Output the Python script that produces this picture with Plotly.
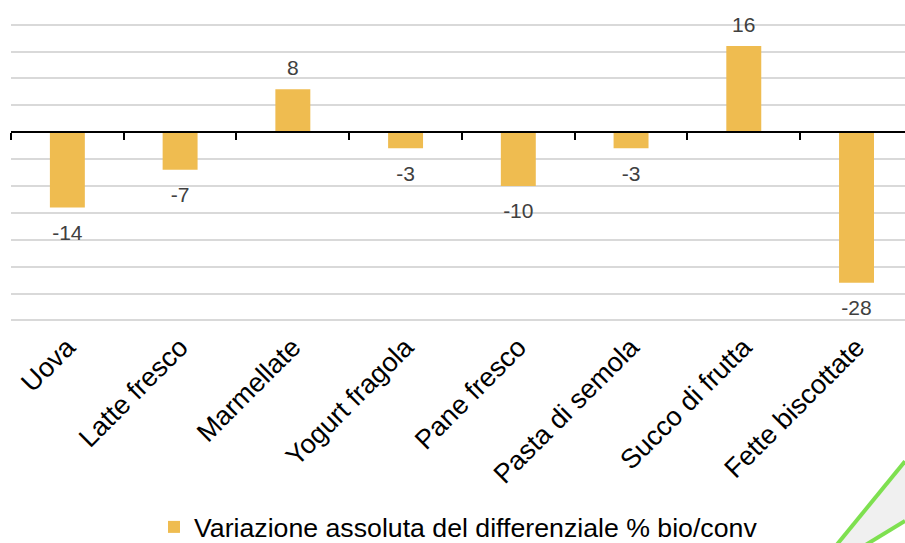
import plotly.graph_objects as go

categories = ["Uova", "Latte fresco", "Marmellate", "Yogurt fragola", "Pane fresco",
              "Pasta di semola", "Succo di frutta", "Fette biscottate"]
values = [-14, -7, 8, -3, -10, -3, 16, -28]
series_name = "Variazione assoluta del differenziale % bio/conv"

BAR = "#EFBC50"
FONT = "Liberation Sans, Arial, sans-serif"
W, H = 905, 543
top, bottom_px, left = 23, 322, 11
y_min, y_max = -35.3, 20.3

fig = go.Figure()
fig.add_bar(x=categories, y=values, width=0.31, marker=dict(color=BAR, line=dict(width=0)),
            name=series_name, showlegend=True, hoverinfo="skip")
fig.add_scatter(x=categories, y=values, mode="markers+text",
                text=[str(v) for v in values],
                textposition=["top center" if v >= 0 else "bottom center" for v in values],
                textfont=dict(family=FONT, size=21, color="#404040"),
                marker=dict(size=[13 if v >= 0 else 25 for v in values], opacity=0),
                showlegend=False, hoverinfo="skip", cliponaxis=False)
# helper trace for the zero axis with boundary ticks
fig.add_scatter(x=categories, y=values, xaxis="x2", mode="markers",
                marker=dict(opacity=0), showlegend=False, hoverinfo="skip")

xr = [-0.5, 7.43]
fig.update_layout(
    width=W, height=H,
    margin=dict(l=left, r=0, t=top, b=H - bottom_px, autoexpand=False),
    paper_bgcolor="white", plot_bgcolor="white",
    showlegend=True,
    xaxis=dict(type="category", range=xr, showgrid=False, showline=False, ticks="",
               tickangle=-45, tickfont=dict(family=FONT, size=27, color="black"),
               ticklabelstandoff=3, automargin=False),
    xaxis2=dict(type="category", range=xr, overlaying="x", anchor="free",
                position=(0 - y_min) / (y_max - y_min), side="bottom",
                showline=True, linecolor="black", linewidth=2,
                ticks="outside", tickson="boundaries", ticklen=7, tickwidth=2, tickcolor="black",
                showticklabels=False, showgrid=False, automargin=False),
    yaxis=dict(range=[y_min, y_max], dtick=5, tick0=0, showgrid=True, gridcolor="#d9d9d9",
               gridwidth=2, zeroline=False, showticklabels=False, ticks="", showline=False),
    legend=dict(orientation="h", xref="container", yref="paper", x=0.5066, xanchor="center",
                y=-0.766, yanchor="bottom", font=dict(family=FONT, size=26.7, color="black"),
                itemwidth=30, bgcolor="rgba(0,0,0,0)"),
    shapes=[
        dict(type="path", xref="paper", yref="paper",
             path="M 0.9160 -0.773 L 1.0 -0.466 L 1.0 -0.665 L 0.9410 -0.773 Z",
             fillcolor="#f0f0f0", line=dict(width=0), layer="below"),
        dict(type="line", xref="paper", yref="paper", x0=0.9160, y0=-0.773, x1=1.0, y1=-0.466,
             line=dict(color="#7EE050", width=4)),
        dict(type="line", xref="paper", yref="paper", x0=0.9410, y0=-0.773, x1=1.0, y1=-0.665,
             line=dict(color="#7EE050", width=4)),
    ],
)
fig.write_html("out.html", config={"displayModeBar": False},
               post_script="document.body.style.margin='0';document.body.style.overflow='hidden';")
